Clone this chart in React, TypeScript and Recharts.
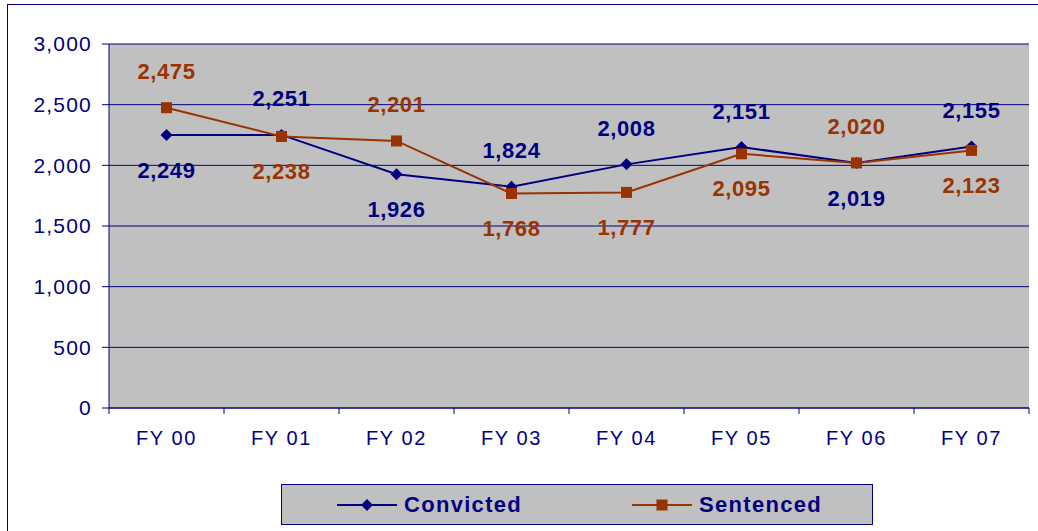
import React from "react";
import {
  LineChart,
  Line,
  XAxis,
  YAxis,
  CartesianGrid,
  LabelList,
  Legend,
} from "recharts";

const years = ["FY 00", "FY 01", "FY 02", "FY 03", "FY 04", "FY 05", "FY 06", "FY 07"];
const convicted = [2249, 2251, 1926, 1824, 2008, 2151, 2019, 2155];
const sentenced = [2475, 2238, 2201, 1768, 1777, 2095, 2020, 2123];
const yTicks = [0, 500, 1000, 1500, 2000, 2500, 3000];

// which side of the point each value label sits on
const convictedSide = ["below", "above", "below", "above", "above", "above", "below", "above"];
const sentencedSide = ["above", "below", "above", "below", "below", "below", "above", "below"];

const NAVY = "#000080";
const BROWN = "#993300";
const FONT = "'Liberation Sans', Arial, sans-serif";

const W = 1038;
const H = 531;
const PLOT_LEFT = 109;
const PLOT_RIGHT = 1029;
const HALF_STEP = (PLOT_RIGHT - PLOT_LEFT) / years.length / 2;

const data = years.map((name, i) => ({
  name,
  convicted: convicted[i],
  sentenced: sentenced[i],
}));

const fmt = (v: number) => v.toLocaleString("en-US");

const XTick: React.FC<any> = ({ x, y, payload, index }) => {
  const axisY = y - 6 - 14;
  const last = index === years.length - 1;
  return (
    <g>
      <line x1={x - HALF_STEP} x2={x - HALF_STEP} y1={axisY} y2={axisY + 6} stroke={NAVY} />
      {last && (
        <line x1={x + HALF_STEP} x2={x + HALF_STEP} y1={axisY} y2={axisY + 6} stroke={NAVY} />
      )}
      <text
        x={x}
        y={y + 17}
        textAnchor="middle"
        fill={NAVY}
        style={{ fontFamily: FONT, fontSize: 20, letterSpacing: 1.6 }}
      >
        {payload.value}
      </text>
    </g>
  );
};

const makeLabel = (sides: string[], color: string) => (props: any) => {
  const { x, y, value, index } = props;
  const dy = sides[index] === "above" ? -36 : 35;
  return (
    <text
      x={x}
      y={y + dy}
      textAnchor="middle"
      dominantBaseline="central"
      fill={color}
      style={{ fontFamily: FONT, fontSize: 22, fontWeight: 700, letterSpacing: 0.6 }}
    >
      {fmt(value)}
    </text>
  );
};

const Diamond: React.FC<any> = ({ cx, cy }) => (
  <path d={`M${cx},${cy - 6} L${cx + 6},${cy} L${cx},${cy + 6} L${cx - 6},${cy} Z`} fill={NAVY} />
);

const Square: React.FC<any> = ({ cx, cy }) => (
  <rect x={cx - 5.5} y={cy - 5.5} width={11} height={11} fill={BROWN} />
);

const LegendItem: React.FC<{ color: string; label: string; square?: boolean }> = ({ color, label, square }) => (
  <div style={{ display: "flex", alignItems: "center" }}>
    <svg width={60} height={14}>
      <line x1={0} x2={60} y1={7} y2={7} stroke={color} strokeWidth={2} />
      {square ? (
        <rect x={24.5} y={1.5} width={11} height={11} fill={color} />
      ) : (
        <path d="M30,1 L36,7 L30,13 L24,7 Z" fill={color} />
      )}
    </svg>
    <span
      style={{
        marginLeft: 7,
        color: NAVY,
        fontFamily: FONT,
        fontSize: 22,
        fontWeight: 700,
        letterSpacing: 1.3,
      }}
    >
      {label}
    </span>
  </div>
);

const LegendBox = () => (
  <div
    style={{
      boxSizing: "border-box",
      width: 592,
      height: 41,
      background: "#C0C0C0",
      border: `1px solid ${NAVY}`,
      display: "flex",
      alignItems: "center",
      paddingLeft: 55,
      gap: 110,
    }}
  >
    <LegendItem color={NAVY} label="Convicted" />
    <LegendItem color={BROWN} label="Sentenced" square />
  </div>
);

export default function App() {
  return (
    <div style={{ position: "absolute", left: 0, top: 0, width: W, height: H, background: "#fff", overflow: "hidden" }}>
      <div
        style={{
          position: "absolute",
          left: 7,
          top: 4,
          width: W,
          height: H,
          borderTop: `1px solid ${NAVY}`,
          borderLeft: `1px solid ${NAVY}`,
        }}
      />
      <LineChart
        width={W}
        height={H}
        data={data}
        margin={{ top: 44, right: W - PLOT_RIGHT, bottom: 83, left: 0 }}
        style={{ position: "absolute", left: 0, top: 0 }}
      >
        <CartesianGrid
          vertical={false}
          stroke={NAVY}
          fill="#C0C0C0"
          fillOpacity={1}
        />
        <XAxis
          dataKey="name"
          padding={{ left: HALF_STEP, right: HALF_STEP }}
          height={40}
          tickSize={6}
          tickMargin={14}
          tickLine={false}
          axisLine={{ stroke: NAVY }}
          tick={<XTick />}
          interval={0}
        />
        <XAxis xAxisId="top" orientation="top" height={0} tick={false} tickLine={false} axisLine={{ stroke: "#808080" }} />
        <YAxis
          domain={[0, 3000]}
          ticks={yTicks}
          width={PLOT_LEFT}
          tickSize={7}
          tickMargin={10}
          tickFormatter={fmt}
          axisLine={{ stroke: NAVY }}
          tickLine={{ stroke: NAVY }}
          tick={{ fill: NAVY, fontFamily: FONT, fontSize: 21, letterSpacing: 1.2 }}
        />
        <YAxis yAxisId="right" orientation="right" width={0} tick={false} tickLine={false} axisLine={{ stroke: "#808080" }} />
        <Line
          dataKey="convicted"
          stroke={NAVY}
          strokeWidth={2}
          dot={<Diamond />}
          activeDot={false}
          isAnimationActive={false}
        >
          <LabelList dataKey="convicted" content={makeLabel(convictedSide, NAVY)} />
        </Line>
        <Line
          dataKey="sentenced"
          stroke={BROWN}
          strokeWidth={2}
          dot={<Square />}
          activeDot={false}
          isAnimationActive={false}
        >
          <LabelList dataKey="sentenced" content={makeLabel(sentencedSide, BROWN)} />
        </Line>
        <Legend
          verticalAlign="middle"
          align="center"
          layout="horizontal"
          content={<LegendBox />}
          wrapperStyle={{ left: 281, top: 484, width: 592, height: 41 }}
        />
      </LineChart>
    </div>
  );
}
